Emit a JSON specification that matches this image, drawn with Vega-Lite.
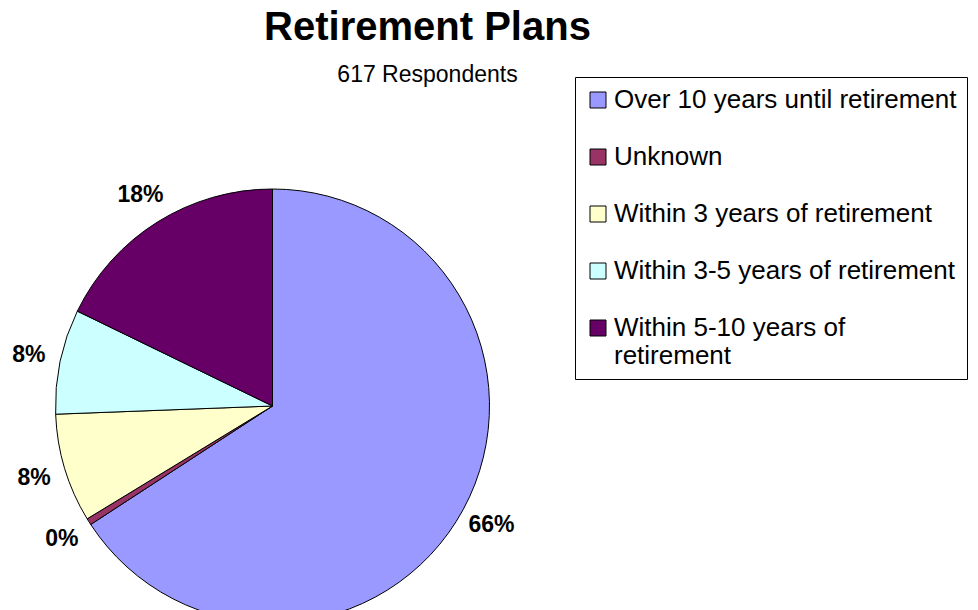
{
  "$schema": "https://vega.github.io/schema/vega-lite/v6.json",
  "width": 535,
  "height": 658,
  "padding": {"left": 5, "top": 7, "right": 0, "bottom": 0},
  "background": "white",
  "title": {
    "text": "Retirement Plans",
    "subtitle": "617 Respondents",
    "font": "Liberation Sans",
    "fontSize": 40,
    "fontWeight": "bold",
    "color": "black",
    "subtitleFont": "Liberation Sans",
    "subtitleFontSize": 23,
    "subtitleColor": "black",
    "subtitlePadding": 16,
    "anchor": "middle",
    "frame": "group",
    "dx": 155,
    "offset": -10
  },
  "data": {
    "values": [
      {"idx": 1, "plan": "Over 10 years until retirement", "share": 0.658},
      {"idx": 2, "plan": "Unknown", "share": 0.0049},
      {"idx": 3, "plan": "Within 3 years of retirement", "share": 0.081},
      {"idx": 4, "plan": "Within 3-5 years of retirement", "share": 0.078},
      {"idx": 5, "plan": "Within 5-10 years of retirement", "share": 0.178}
    ]
  },
  "encoding": {
    "theta": {"field": "share", "type": "quantitative", "stack": true},
    "order": {"field": "idx", "type": "quantitative"}
  },
  "layer": [
    {
      "mark": {"type": "arc", "outerRadius": 217, "stroke": "black", "strokeWidth": 1},
      "encoding": {
        "color": {
          "field": "plan",
          "type": "nominal",
          "scale": {
            "domain": ["Over 10 years until retirement", "Unknown", "Within 3 years of retirement", "Within 3-5 years of retirement", "Within 5-10 years of retirement"],
            "range": ["#9999FF", "#993366", "#FFFFCC", "#CCFFFF", "#660066"]
          },
          "legend": {
            "title": null,
            "orient": "none",
            "legendX": 570,
            "legendY": 0,
            "symbolType": "square",
            "symbolSize": 256,
            "symbolStrokeColor": "black",
            "symbolStrokeWidth": 1,
            "labelFont": "Liberation Sans",
            "labelFontSize": 26,
            "labelColor": "black",
            "labelLimit": 600,
            "labelOffset": 3,
            "rowPadding": 31,
            "padding": 10,
            "strokeColor": "black",
            "fillColor": "white",
            "labelExpr": "datum.label == 'Within 5-10 years of retirement' ? ['Within 5-10 years of', 'retirement'] : datum.label"
          }
        }
      }
    },
    {
      "mark": {"type": "text", "radius": 249, "font": "Liberation Sans", "fontSize": 23, "fontWeight": "bold"},
      "encoding": {
        "detail": {"field": "plan", "type": "nominal"},
        "text": {"field": "share", "type": "quantitative", "format": ".0%"},
        "color": {"value": "black"}
      }
    }
  ],
  "config": {"view": {"stroke": null}}
}
